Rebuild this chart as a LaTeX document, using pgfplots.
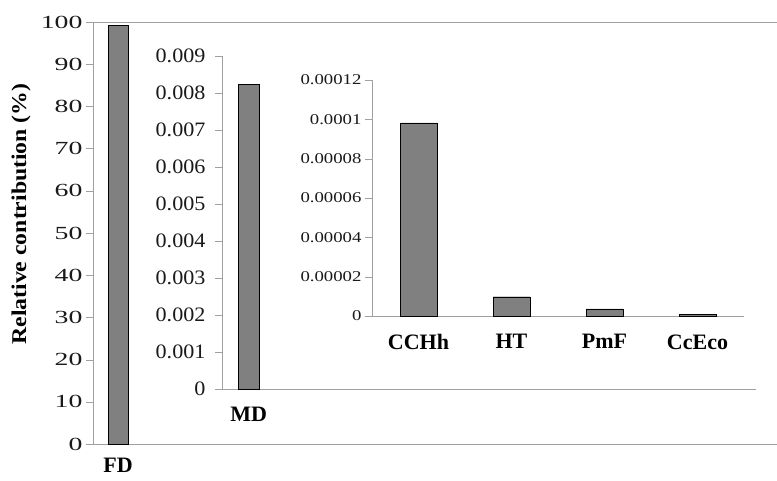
\documentclass[border=0pt]{standalone}
\usepackage{fontspec}
\setmainfont{Liberation Serif}
\newfontfamily\tickouter[FakeStretch=1.5]{Liberation Serif}
\newfontfamily\tickmid[FakeStretch=1.08]{Liberation Serif}
\newfontfamily\tickinner[FakeStretch=1.25]{Liberation Serif}
\newfontfamily\ylabfont[FakeStretch=1.13]{Liberation Serif}
\usepackage{pgfplots}
\pgfplotsset{compat=1.18}

\definecolor{barfill}{HTML}{808080}
\definecolor{axisgray}{HTML}{A0A0A0}
\definecolor{labgray}{HTML}{1A1A1A}

\pgfplotsset{
  nested/.style={
    scale only axis,
    anchor=south west,
    axis line style={axisgray},
    tick style={axisgray},
    tick align=outside,
    major tick length=7pt,
    minor tick length=6pt,
    ymin=0,
    clip=false,
    scaled y ticks=false,
    ytick pos=left,
    xtick style={draw=none},
    xticklabel style={font=\bfseries\fontsize{22}{24}\selectfont, text=black, yshift=-8pt},
    /pgf/number format/assume math mode=true,
  },
}

\begin{document}
\begin{tikzpicture}
\path[use as bounding box] (0pt,0pt) rectangle (777pt,480pt);

% outer axis, 0 to 100
\begin{axis}[nested,
  at={(93pt,36pt)}, width=700pt, height=422pt,
  axis lines=box,
  xmin=0, xmax=14, ymax=100,
  ytick={0,10,...,100},
  yticklabel style={font=\tickouter\fontsize{18.5}{20}\selectfont, text=labgray},
  xtick={0.5}, xticklabels={FD},
  xticklabel style={yshift=4pt},
]
\addplot[ybar, bar width=20pt, fill=barfill, draw=black] coordinates {(0.5,99.2)};
\end{axis}

% middle axis, 0 to 0.009
\begin{axis}[nested,
  at={(222pt,91pt)}, width=534pt, height=333pt,
  axis x line*=bottom, axis y line*=left,
  xmin=0, xmax=10, ymax=0.009,
  ytick={0,0.001,0.002,0.003,0.004,0.005,0.006,0.007,0.008,0.009},
  yticklabels={0,0.001,0.002,0.003,0.004,0.005,0.006,0.007,0.008,0.009},
  yticklabel style={font=\tickmid\fontsize{20.5}{22}\selectfont, text=labgray, xshift=-6pt},
  xtick={0.5}, xticklabels={MD},
  minor xtick={0,1,...,10},
]
\addplot[ybar, bar width=21pt, fill=barfill, draw=black] coordinates {(0.5,0.00824)};
\end{axis}

% inner axis, 0 to 0.00012
\begin{axis}[nested,
  at={(372pt,164pt)}, width=372pt, height=236pt,
  axis x line*=bottom, axis y line*=left,
  xmin=0, xmax=4, ymax=0.00012,
  ytick={0,0.00002,0.00004,0.00006,0.00008,0.0001,0.00012},
  yticklabels={0,0.00002,0.00004,0.00006,0.00008,0.0001,0.00012},
  yticklabel style={font=\tickinner\fontsize{15}{17}\selectfont, text=labgray},
  xtick={0.5,1.5,2.5,3.5}, xticklabels={CCHh,HT,PmF,CcEco},
  minor xtick={0,1,...,4},
]
\addplot[ybar, bar width=37pt, fill=barfill, draw=black] coordinates {(0.5,0.0000982) (1.5,0.0000098) (2.5,0.0000036) (3.5,0.0000010)};
\end{axis}

\node[rotate=90, font=\ylabfont\bfseries\fontsize{21}{23}\selectfont] at (21pt,266pt) {Relative contribution (\%)};
\end{tikzpicture}
\end{document}
